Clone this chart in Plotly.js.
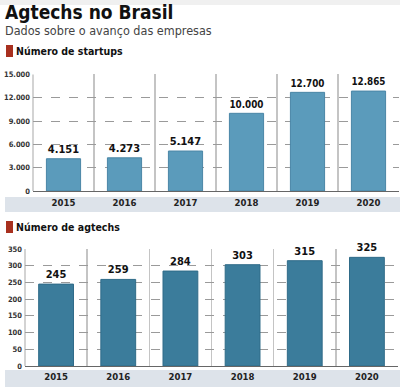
<!DOCTYPE html>
<html>
<head>
<meta charset="utf-8">
<script src="https://cdn.plot.ly/plotly-3.0.1.min.js"></script>
<style>html,body{margin:0;padding:0;background:#fff}#chart{width:400px;height:387px}</style>
</head>
<body>
<div id="chart"></div>
<script>
var years = ['2015', '2016', '2017', '2018', '2019', '2020'];
var startups = [4151, 4273, 5147, 10000, 12700, 12865];
var agtechs = [245, 259, 284, 303, 315, 325];
var startupTicks = [0, 3000, 6000, 9000, 12000, 15000];
var agtechTicks = [0, 50, 100, 150, 200, 250, 300, 350];

var FONT = '"DejaVu Sans Condensed", "Liberation Sans", sans-serif';

var traces = [
  {
    type: 'bar', x: years, y: startups, xaxis: 'x', yaxis: 'y',
    marker: {color: '#5b9bbb', line: {color: '#4a86a6', width: 1}},
    width: 0.56,
    texttemplate: '<b>%{y:,}</b>', textposition: 'outside', cliponaxis: false,
    textfont: {family: FONT, size: 11, color: '#111'},
    hoverinfo: 'skip'
  },
  {
    type: 'bar', x: years, y: agtechs, xaxis: 'x2', yaxis: 'y2',
    marker: {color: '#3b7c9b', line: {color: '#2f6b88', width: 1}},
    width: 0.56,
    texttemplate: '<b>%{y}</b>', textposition: 'outside', cliponaxis: false,
    textfont: {family: FONT, size: 11, color: '#111'},
    hoverinfo: 'skip'
  }
];

var yCommon = {
  showgrid: true, gridcolor: '#9a9a9a', griddash: 'dash', gridwidth: 1,
  zeroline: false, showline: false, ticks: '', fixedrange: true,
  tickfont: {family: FONT, size: 7.5, color: '#333', weight: 'bold'}
};
var xCommon = {
  type: 'category', tickson: 'boundaries', showgrid: true, gridcolor: '#c4c4c4', gridwidth: 1.5,
  showline: true, linecolor: '#666', linewidth: 1.5, ticks: '', fixedrange: true,
  tickfont: {family: FONT, size: 9.5, color: '#222', weight: 'bold'}
};

var layout = {
  width: 400, height: 387,
  margin: {l: 0, r: 0, t: 0, b: 0},
  paper_bgcolor: '#ffffff', plot_bgcolor: 'rgba(0,0,0,0)',
  showlegend: false,
  separators: ',.',
  xaxis: Object.assign({}, xCommon, {domain: [0.0825, 0.9975], anchor: 'y', ticklabelstandoff: 2}),
  yaxis: Object.assign({}, yCommon, {domain: [0.5065, 0.8075], anchor: 'x', range: [0, 15000],
    tickvals: startupTicks, tickformat: ',d', ticklabelstandoff: 2}),
  xaxis2: Object.assign({}, xCommon, {domain: [0.0625, 0.995], anchor: 'y2', ticklabelstandoff: 1}),
  yaxis2: Object.assign({}, yCommon, {domain: [0.0543, 0.3566], anchor: 'x2', range: [0, 350],
    tickvals: agtechTicks, ticklabelstandoff: 2}),
  shapes: [
    {type: 'rect', xref: 'paper', yref: 'paper', x0: 0, x1: 1, y0: 1 - 5/387, y1: 1,
      fillcolor: '#f0f0f0', line: {width: 0}, layer: 'below'},
    {type: 'rect', xref: 'paper', yref: 'paper', x0: 0.0125, x1: 1, y0: 1 - 212/387, y1: 1 - 197/387,
      fillcolor: '#dde3ea', line: {width: 0}, layer: 'below'},
    {type: 'rect', xref: 'paper', yref: 'paper', x0: 0.0125, x1: 1, y0: 0, y1: 1 - 370/387,
      fillcolor: '#dde3ea', line: {width: 0}, layer: 'below'},
    {type: 'line', xref: 'paper', yref: 'paper', x0: 0.0825, x1: 0.0825, y0: 1 - 191/387, y1: 1 - 74.5/387,
      line: {color: '#c4c4c4', width: 1.5}, layer: 'below'},
    {type: 'line', xref: 'paper', yref: 'paper', x0: 0.0625, x1: 0.0625, y0: 1 - 366/387, y1: 1 - 249/387,
      line: {color: '#c4c4c4', width: 1.5}, layer: 'below'},
    {type: 'rect', xref: 'paper', yref: 'paper', x0: 6/400, x1: 13/400, y0: 1 - 57/387, y1: 1 - 45/387,
      fillcolor: '#a8301f', line: {width: 0}},
    {type: 'rect', xref: 'paper', yref: 'paper', x0: 6/400, x1: 13/400, y0: 1 - 233/387, y1: 1 - 221/387,
      fillcolor: '#a8301f', line: {width: 0}}
  ],
  annotations: [
    {text: '<b>Agtechs no Brasil</b>', xref: 'paper', yref: 'paper', x: 3/400, y: 1 - 12/387,
      xanchor: 'left', yanchor: 'middle', showarrow: false,
      font: {family: FONT, size: 19, color: '#111'}},
    {text: 'Dados sobre o avanço das empresas', xref: 'paper', yref: 'paper', x: 3/400, y: 1 - 30/387,
      xanchor: 'left', yanchor: 'middle', showarrow: false,
      font: {family: FONT, size: 12.5, color: '#444'}},
    {text: '<b>Número de startups</b>', xref: 'paper', yref: 'paper', x: 14/400, y: 1 - 51/387,
      xanchor: 'left', yanchor: 'middle', showarrow: false,
      font: {family: FONT, size: 10.5, color: '#111'}},
    {text: '<b>Número de agtechs</b>', xref: 'paper', yref: 'paper', x: 14/400, y: 1 - 227/387,
      xanchor: 'left', yanchor: 'middle', showarrow: false,
      font: {family: FONT, size: 10.5, color: '#111'}}
  ]
};

Plotly.newPlot('chart', traces, layout, {displayModeBar: false, staticPlot: true});
</script>
</body>
</html>
